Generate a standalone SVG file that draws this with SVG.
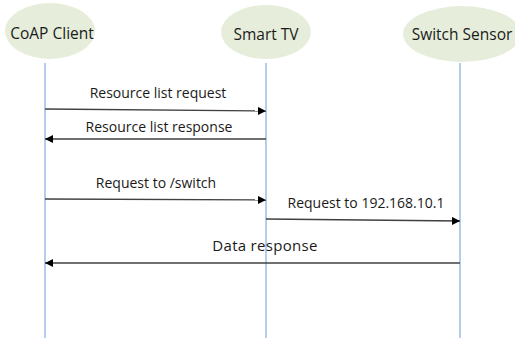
<svg xmlns="http://www.w3.org/2000/svg" width="515" height="338" viewBox="0 0 515 338">
<style>
.actor{fill:#e6eedb;stroke:none}
.lbl{font-family:"Open Sans","Liberation Sans",sans-serif;font-size:14px;fill:#1a1a1a;text-anchor:middle}
.big{font-size:15.5px}
.life{stroke:#8db3e2;stroke-width:1.3;fill:none}
.msg{stroke:#404040;stroke-width:1.3;fill:none}
</style>
<defs>
<marker id="ah" viewBox="0 0 10 10" refX="10" refY="5" markerWidth="8" markerHeight="8" markerUnits="userSpaceOnUse" orient="auto">
<path d="M0,0 L10,5 L0,10 Z" fill="#000"/>
</marker>
</defs>
<g id="coap-client">
<ellipse class="actor" cx="50" cy="31" rx="45" ry="28"/>
<text class="lbl big" x="52" y="39">CoAP Client</text>
<line class="life" x1="45" y1="63" x2="45" y2="338"/>
</g>
<g id="smart-tv">
<ellipse class="actor" cx="266" cy="32" rx="45" ry="27"/>
<text class="lbl big" x="266" y="40">Smart TV</text>
<line class="life" x1="266" y1="63" x2="266" y2="338"/>
</g>
<g id="switch-sensor">
<ellipse class="actor" cx="462" cy="34" rx="59" ry="28"/>
<text class="lbl big" x="462" y="40">Switch Sensor</text>
<line class="life" x1="460" y1="63" x2="460" y2="338"/>
</g>
<g id="connectors">
<line class="msg" x1="45" y1="109" x2="266" y2="111" marker-end="url(#ah)"/>
<text class="lbl" x="158" y="98">Resource list request</text>
<line class="msg" x1="266" y1="139" x2="45" y2="139" marker-end="url(#ah)"/>
<text class="lbl" x="159" y="132">Resource list response</text>
<line class="msg" x1="45" y1="199" x2="266" y2="200" marker-end="url(#ah)"/>
<text class="lbl" x="156" y="188">Request to /switch</text>
<line class="msg" x1="266" y1="219" x2="460" y2="221" marker-end="url(#ah)"/>
<text class="lbl" x="366" y="208">Request to 192.168.10.1</text>
<line class="msg" x1="460" y1="263" x2="45" y2="263" marker-end="url(#ah)"/>
<text class="lbl" x="265" y="251" style="font-size:15px;letter-spacing:0.3px">Data response</text>
</g>
</svg>
